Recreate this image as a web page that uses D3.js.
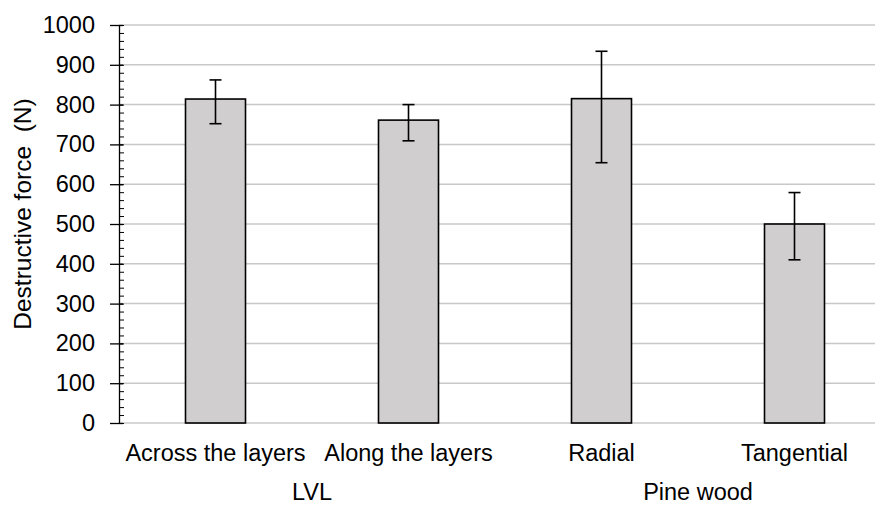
<!DOCTYPE html>
<html>
<head>
<meta charset="utf-8">
<script src="https://cdn.jsdelivr.net/npm/d3@7"></script>
<style>
  body { margin: 0; background: #fff; }
  text { font-family: "Liberation Sans", Arial, sans-serif; fill: #000; }
</style>
</head>
<body>
<div id="chart"></div>
<script>
// data
const categories = ['Across the layers', 'Along the layers', 'Radial', 'Tangential'];
const groups = ['LVL', 'LVL', 'Pine wood', 'Pine wood'];
const groupNames = ['LVL', 'Pine wood'];
const values = [814, 761, 815, 500];
const errLow = [752, 709, 654, 410];
const errHigh = [862, 800, 934, 579];
const yTicks = [0, 100, 200, 300, 400, 500, 600, 700, 800, 900, 1000];

const W = 875, H = 507;
const margin = { top: 25, left: 119, bottom: 84 };
const fontSize = '23.5px';

const svg = d3.select('#chart').append('svg')
  .attr('width', W)
  .attr('height', H);

const x = d3.scaleBand()
  .domain(categories)
  .range([margin.left, margin.left + 193 * 4]);

const y = d3.scaleLinear()
  .domain([0, 1000])
  .range([H - margin.bottom, margin.top]);

// gridlines (incl. baseline)
svg.append('g')
  .selectAll('line')
  .data(yTicks)
  .enter().append('line')
    .attr('x1', margin.left)
    .attr('x2', W)
    .attr('y1', d => y(d))
    .attr('y2', d => y(d))
    .style('stroke', '#c8c8c8')
    .style('stroke-width', 1.5);

// minor ticks every 20
svg.append('g')
  .attr('transform', 'translate(' + margin.left + ',0)')
  .call(d3.axisRight(y).tickValues(d3.range(0, 1001, 20)).tickSize(5).tickFormat(''))
  .call(g => g.select('.domain').remove())
  .selectAll('line').style('stroke', '#000');

// y axis
const yAxis = svg.append('g')
  .attr('transform', 'translate(' + margin.left + ',0)')
  .call(d3.axisLeft(y).tickValues(yTicks).tickFormat(d3.format('d'))
    .tickSize(9).tickSizeOuter(0).tickPadding(15));
yAxis.select('.domain').style('stroke', '#000').style('stroke-width', 1.3);
yAxis.selectAll('.tick line').style('stroke', '#000').style('stroke-width', 1.3)
  .attr('x2', -9).attr('x1', 4);
yAxis.selectAll('text')
  .style('font-size', fontSize)
  .style('font-family', '"Liberation Sans", Arial, sans-serif')
  .style('fill', '#000');

// bars
const barW = 60;
svg.append('g')
  .selectAll('rect')
  .data(values)
  .enter().append('rect')
    .attr('x', (d, i) => x(categories[i]) + x.bandwidth() / 2 - barW / 2)
    .attr('y', d => y(d))
    .attr('width', barW)
    .attr('height', d => y(0) - y(d))
    .style('fill', '#d0cecf')
    .style('stroke', '#000')
    .style('stroke-width', 1.6);

// error bars
const err = svg.append('g');
values.forEach((v, i) => {
  const cx = x(categories[i]) + x.bandwidth() / 2;
  err.append('line')
    .attr('x1', cx).attr('x2', cx)
    .attr('y1', y(errLow[i])).attr('y2', y(errHigh[i]))
    .style('stroke', '#000').style('stroke-width', 1.6);
  [errLow[i], errHigh[i]].forEach(e => {
    err.append('line')
      .attr('x1', cx - 6).attr('x2', cx + 6)
      .attr('y1', y(e)).attr('y2', y(e))
      .style('stroke', '#000').style('stroke-width', 1.6);
  });
});

// category labels
svg.append('g')
  .selectAll('text')
  .data(categories)
  .enter().append('text')
    .attr('x', d => x(d) + x.bandwidth() / 2)
    .attr('y', 461)
    .attr('text-anchor', 'middle')
    .style('font-size', fontSize)
    .text(d => d);

// group labels
svg.append('g')
  .selectAll('text')
  .data(groupNames)
  .enter().append('text')
    .attr('x', g => {
      const idx = categories.filter((c, i) => groups[i] === g).map(c => x(c) + x.bandwidth() / 2);
      return d3.mean(idx);
    })
    .attr('y', 500)
    .attr('text-anchor', 'middle')
    .style('font-size', fontSize)
    .text(g => g);

// y axis title
svg.append('text')
  .attr('transform', 'translate(31,214) rotate(-90)')
  .attr('text-anchor', 'middle')
  .style('font-size', '24.5px')
  .style('white-space', 'pre')
  .text('Destructive force  (N)');
</script>
</body>
</html>
